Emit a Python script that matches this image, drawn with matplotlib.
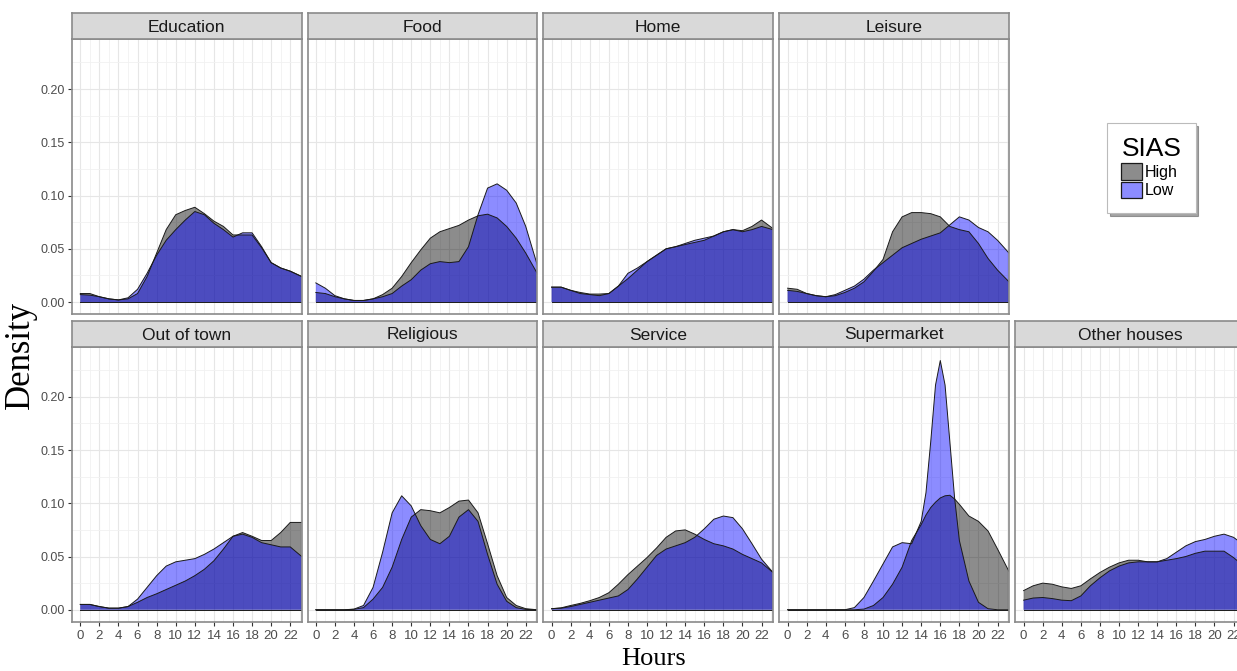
import matplotlib
matplotlib.use("Agg")
import matplotlib.pyplot as plt
from matplotlib.patches import Patch

plt.rcParams["font.family"] = ["Liberation Sans", "DejaVu Sans"]

# hour grid used for the curves (last point is the panel's right edge)
HOURS = [0, 1, 2, 3, 4, 5, 6, 7, 8, 9, 10, 11, 12, 13, 14, 15, 16, 17, 18, 19, 20, 21, 22, 23.2]
SUPER_HOURS = [0, 1, 2, 3, 4, 5, 6, 7, 8, 9, 10, 11, 12, 13, 14, 14.5, 15, 15.5,
               16, 16.5, 17, 17.5, 18, 19, 20, 21, 22, 23.2]

EDU_HIGH = [0.008, 0.008, 0.005, 0.003, 0.002, 0.003, 0.008, 0.024, 0.046, 0.068, 0.082, 0.086,
            0.089, 0.083, 0.076, 0.071, 0.063, 0.063, 0.063, 0.051, 0.037, 0.032, 0.029, 0.024]
EDU_LOW = [0.007, 0.0065, 0.005, 0.003, 0.002, 0.004, 0.012, 0.027, 0.044, 0.058, 0.068, 0.077,
           0.085, 0.082, 0.074, 0.068, 0.061, 0.065, 0.065, 0.052, 0.037, 0.032, 0.029, 0.024]

FOOD_HIGH = [0.009, 0.008, 0.005, 0.003, 0.0015, 0.0015, 0.003, 0.007, 0.013, 0.024, 0.037, 0.049,
             0.060, 0.066, 0.069, 0.072, 0.077, 0.081, 0.0825, 0.079, 0.071, 0.060, 0.046, 0.027]
FOOD_LOW = [0.018, 0.013, 0.006, 0.003, 0.0015, 0.0015, 0.003, 0.005, 0.008, 0.015, 0.021, 0.030,
            0.036, 0.038, 0.037, 0.038, 0.052, 0.082, 0.107, 0.111, 0.105, 0.093, 0.071, 0.035]

HOME_HIGH = [0.014, 0.014, 0.011, 0.009, 0.0075, 0.0075, 0.008, 0.015, 0.022, 0.030, 0.038, 0.044,
             0.050, 0.052, 0.054, 0.056, 0.058, 0.062, 0.066, 0.068, 0.067, 0.071, 0.077, 0.069]
HOME_LOW = [0.014, 0.014, 0.011, 0.008, 0.007, 0.006, 0.008, 0.015, 0.027, 0.032, 0.038, 0.044,
            0.050, 0.052, 0.055, 0.058, 0.060, 0.062, 0.066, 0.068, 0.066, 0.068, 0.071, 0.068]

LEIS_HIGH = [0.013, 0.012, 0.008, 0.006, 0.005, 0.006, 0.009, 0.013, 0.019, 0.029, 0.040, 0.066,
             0.080, 0.084, 0.084, 0.083, 0.080, 0.071, 0.068, 0.066, 0.055, 0.041, 0.030, 0.019]
LEIS_LOW = [0.011, 0.010, 0.008, 0.006, 0.005, 0.007, 0.011, 0.015, 0.0215, 0.030, 0.037, 0.044,
            0.051, 0.055, 0.059, 0.062, 0.065, 0.0725, 0.080, 0.077, 0.070, 0.066, 0.058, 0.046]

TOWN_HIGH = [0.005, 0.005, 0.003, 0.0015, 0.0015, 0.003, 0.007, 0.0115, 0.015, 0.019, 0.023, 0.027,
             0.032, 0.038, 0.046, 0.057, 0.069, 0.0725, 0.069, 0.065, 0.065, 0.0725, 0.082, 0.082]
TOWN_LOW = [0.005, 0.005, 0.003, 0.0015, 0.0015, 0.003, 0.010, 0.021, 0.032, 0.041, 0.045, 0.0465,
            0.048, 0.052, 0.057, 0.063, 0.069, 0.071, 0.068, 0.063, 0.061, 0.059, 0.059, 0.050]

REL_HIGH = [0, 0, 0, 0, 0.0004, 0.002, 0.010, 0.021, 0.040, 0.066, 0.087, 0.094,
            0.093, 0.091, 0.096, 0.102, 0.103, 0.091, 0.062, 0.032, 0.0115, 0.004, 0.001, 0]
REL_LOW = [0, 0, 0, 0, 0.0006, 0.004, 0.021, 0.054, 0.091, 0.107, 0.0975, 0.079,
           0.066, 0.062, 0.069, 0.087, 0.094, 0.083, 0.052, 0.024, 0.008, 0.002, 0.0003, 0]

SERV_HIGH = [0.001, 0.0018, 0.004, 0.006, 0.0085, 0.0115, 0.016, 0.024, 0.033, 0.041, 0.049, 0.058,
             0.068, 0.074, 0.075, 0.071, 0.066, 0.062, 0.060, 0.057, 0.052, 0.048, 0.044, 0.035]
SERV_LOW = [0.001, 0.0015, 0.003, 0.005, 0.007, 0.009, 0.011, 0.013, 0.019, 0.029, 0.040, 0.051,
            0.057, 0.060, 0.063, 0.068, 0.076, 0.085, 0.088, 0.0865, 0.076, 0.062, 0.0475, 0.035]

SUPER_HIGH = [0, 0, 0, 0, 0, 0, 0, 0, 0.0006, 0.004, 0.0115, 0.024, 0.040, 0.065, 0.080, 0.089,
              0.096, 0.101, 0.105, 0.107, 0.1075, 0.104, 0.099, 0.088, 0.083, 0.074, 0.057, 0.036]
SUPER_LOW = [0, 0, 0, 0, 0, 0, 0, 0.002, 0.0115, 0.027, 0.043, 0.059, 0.063, 0.062, 0.083, 0.110,
             0.158, 0.211, 0.234, 0.211, 0.158, 0.105, 0.065, 0.027, 0.007, 0.001, 0, 0]

OTHER_HIGH = [0.018, 0.0225, 0.025, 0.024, 0.0215, 0.020, 0.0225, 0.029, 0.035, 0.040, 0.044, 0.0465,
              0.0465, 0.045, 0.045, 0.0465, 0.048, 0.050, 0.053, 0.055, 0.055, 0.055, 0.049, 0.040]
OTHER_LOW = [0.009, 0.011, 0.0115, 0.0105, 0.009, 0.0085, 0.013, 0.0225, 0.030, 0.0365, 0.041, 0.044,
             0.045, 0.045, 0.045, 0.048, 0.054, 0.060, 0.064, 0.066, 0.069, 0.071, 0.068, 0.060]

PANEL_TITLES = ["Education", "Food", "Home", "Leisure",
                "Out of town", "Religious", "Service", "Supermarket", "Other houses"]
X_TICKS = [0, 2, 4, 6, 8, 10, 12, 14, 16, 18, 20, 22]
Y_TICKS = [0.00, 0.05, 0.10, 0.15, 0.20]
GROUPS = ["High", "Low"]

HIGH_COLOR = "#000000"
LOW_COLOR = "#0000FF"
ALPHA = 0.45

W, H = 1237, 671
COL_LEFT = [72, 307.5, 543.3, 779.3, 1015.3]
PANEL_W = 229.7
ROW_TOP = [39, 346.7]
PANEL_H = 275.3
STRIP_H = 26


def fig_rect(left, top, width, height):
    return [left / W, 1 - (top + height) / H, width / W, height / H]


panels = [
    (EDU_HIGH, EDU_LOW, HOURS),
    (FOOD_HIGH, FOOD_LOW, HOURS),
    (HOME_HIGH, HOME_LOW, HOURS),
    (LEIS_HIGH, LEIS_LOW, HOURS),
    (TOWN_HIGH, TOWN_LOW, HOURS),
    (REL_HIGH, REL_LOW, HOURS),
    (SERV_HIGH, SERV_LOW, HOURS),
    (SUPER_HIGH, SUPER_LOW, SUPER_HOURS),
    (OTHER_HIGH, OTHER_LOW, HOURS),
]
positions = [(0, 0), (0, 1), (0, 2), (0, 3), (1, 0), (1, 1), (1, 2), (1, 3), (1, 4)]

fig = plt.figure(figsize=(W / 100, H / 100), dpi=100)

for title, (high, low, hours), (row, col) in zip(PANEL_TITLES, panels, positions):
    ax = fig.add_axes(fig_rect(COL_LEFT[col], ROW_TOP[row], PANEL_W, PANEL_H))
    ax.set_xlim(-0.87, 23.2)
    ax.set_ylim(-0.0115, 0.247)

    ax.set_xticks(X_TICKS)
    ax.set_xticks([h + 1 for h in X_TICKS], minor=True)
    ax.set_yticks(Y_TICKS)
    ax.set_yticks([v + 0.025 for v in Y_TICKS], minor=True)
    ax.grid(which="major", color="#E6E6E6", linewidth=0.8)
    ax.grid(which="minor", color="#F1F1F1", linewidth=0.6)
    ax.set_axisbelow(True)

    ax.fill_between(hours, 0, high, facecolor=HIGH_COLOR, alpha=ALPHA, linewidth=0)
    ax.plot(hours, high, color="#1A1A1A", linewidth=0.7)
    ax.fill_between(hours, 0, low, facecolor=LOW_COLOR, alpha=ALPHA, linewidth=0)
    ax.plot(hours, low, color="#1A1A1A", linewidth=0.7)
    ax.plot([hours[0], hours[-1]], [0, 0], color="#1A1A1A", linewidth=0.7)

    for s in ax.spines.values():
        s.set_color("#8A8A8A")
        s.set_linewidth(1.2)

    ax.tick_params(which="minor", length=0)
    ax.tick_params(which="major", colors="#333333", labelcolor="#4D4D4D", length=3, width=0.8)
    ax.tick_params(axis="x", labelsize=9.5, pad=3)
    ax.tick_params(axis="y", labelsize=9, pad=2)
    if col != 0:
        ax.tick_params(axis="y", left=False, labelleft=False)
    if row == 0:
        ax.tick_params(axis="x", bottom=False, labelbottom=False)

    sax = fig.add_axes(fig_rect(COL_LEFT[col], ROW_TOP[row] - STRIP_H, PANEL_W, STRIP_H))
    sax.set_facecolor("#D9D9D9")
    sax.set_xticks([])
    sax.set_yticks([])
    for s in sax.spines.values():
        s.set_color("#8A8A8A")
        s.set_linewidth(1.2)
    sax.text(0.5, 0.45, title, ha="center", va="center", fontsize=12.5, color="#1A1A1A",
             transform=sax.transAxes)

fig.text(20 / W, 1 - 355 / H, "Density", rotation=90, ha="center", va="center",
         fontsize=25, family=["Liberation Serif", "DejaVu Serif"])
fig.text(654 / W, 1 - 670 / H, "Hours", ha="center", va="bottom",
         fontsize=19, family=["Liberation Serif", "DejaVu Serif"])

handles = [Patch(facecolor=HIGH_COLOR, alpha=ALPHA, edgecolor="#1A1A1A", linewidth=0.9),
           Patch(facecolor=LOW_COLOR, alpha=ALPHA, edgecolor="#1A1A1A", linewidth=0.9)]
leg = fig.legend(handles, GROUPS, title="SIAS", loc="upper left",
                 bbox_to_anchor=(1107 / W, 1 - 123 / H), fontsize=11.5,
                 title_fontsize=19, alignment="left", frameon=True, fancybox=False,
                 shadow=True, handlelength=1.3, handleheight=1.2, handletextpad=0.15,
                 labelspacing=0.12, borderpad=0.9, borderaxespad=0)
leg.get_frame().set_edgecolor("#BBBBBB")
leg.get_frame().set_linewidth(0.8)
for h in leg.legend_handles:
    h.set_alpha(None)
leg.legend_handles[0].set_facecolor("#8C8C8C")
leg.legend_handles[1].set_facecolor("#8C8CFF")

fig.savefig("out.png", dpi=100)
